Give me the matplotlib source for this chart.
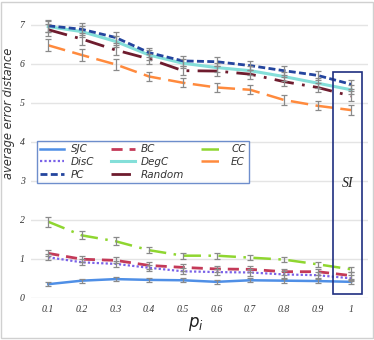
import matplotlib
matplotlib.use("Agg")
import matplotlib.pyplot as plt
from matplotlib.patches import Rectangle

# values
p = [0.1, 0.2, 0.3, 0.4, 0.5, 0.6, 0.7, 0.8, 0.9, 1.0]
xlabels = ["0.1", "0.2", "0.3", "0.4", "0.5", "0.6", "0.7", "0.8", "0.9", "1"]

sjc = [0.35, 0.44, 0.48, 0.46, 0.45, 0.41, 0.45, 0.44, 0.43, 0.41]
bc = [1.14, 0.99, 0.96, 0.83, 0.78, 0.74, 0.73, 0.67, 0.67, 0.57]
cc = [1.95, 1.60, 1.45, 1.22, 1.08, 1.08, 1.03, 0.98, 0.86, 0.73]
disc = [1.04, 0.91, 0.87, 0.77, 0.68, 0.66, 0.65, 0.60, 0.58, 0.50]
degc = [6.95, 6.82, 6.57, 6.22, 6.01, 5.90, 5.82, 5.67, 5.50, 5.33]
ec = [6.47, 6.22, 5.98, 5.67, 5.51, 5.39, 5.33, 5.07, 4.92, 4.81]
pc = [6.97, 6.88, 6.67, 6.28, 6.07, 6.05, 5.95, 5.82, 5.70, 5.47]
rnd = [6.87, 6.63, 6.35, 6.12, 5.82, 5.81, 5.73, 5.54, 5.39, 5.17]

err_low = [0.05, 0.05, 0.05, 0.05, 0.05, 0.05, 0.05, 0.05, 0.05, 0.05]
err_cc = [0.13, 0.1, 0.1, 0.08, 0.08, 0.08, 0.07, 0.07, 0.07, 0.07]
err_mid = [0.08, 0.08, 0.08, 0.08, 0.08, 0.08, 0.08, 0.08, 0.08, 0.08]
err_high = [0.15, 0.15, 0.14, 0.12, 0.12, 0.12, 0.12, 0.12, 0.12, 0.12]

fig = plt.figure(figsize=(3.74, 3.4), dpi=100)
ax = fig.add_axes([0.084, 0.124, 0.9, 0.861])

series = [
    ("SJC", sjc, err_low, "#4f8fe6", "-", 1.8),
    ("BC", bc, err_mid, "#c43a58", (0, (4, 2.5)), 2.0),
    ("CC", cc, err_cc, "#8fd630", (0, (7, 3, 1, 3)), 1.8),
    ("DisC", disc, err_mid, "#7a62e8", (0, (1, 1)), 1.6),
    ("DegC", degc, err_high, "#84dfd9", "-", 2.2),
    ("EC", ec, err_high, "#ff8a3d", (0, (7, 3)), 1.8),
    ("PC", pc, err_high, "#24459e", (0, (2.5, 1.2)), 2.0),
    ("Random", rnd, err_high, "#6e1c2e", (0, (7, 3, 1, 3)), 2.0),
]

lines = {}
for name, vals, err, col, ls, lw in series:
    ax.errorbar(p, vals, yerr=err, fmt="none", ecolor="#8a8a8a",
                elinewidth=0.9, capsize=2, capthick=0.9, zorder=4)
    lines[name], = ax.plot(p, vals, color=col, linestyle=ls, linewidth=lw, label=name, zorder=3)

ax.set_xlim(0.05, 1.05)
ax.set_ylim(0, 7.5)
ax.set_xticks(p)
ax.set_xticklabels(xlabels)
ax.set_yticks(range(8))
ax.grid(axis="y", color="#e4e4e4", linewidth=1)
ax.set_axisbelow(True)
for s in ax.spines.values():
    s.set_visible(False)
ax.tick_params(length=0, labelsize=7, labelcolor="#333333", pad=5)
for t in ax.get_xticklabels() + ax.get_yticklabels():
    t.set_fontfamily("Liberation Serif")
    t.set_fontstyle("italic")

ax.set_xlabel("$p_i$", fontsize=12, labelpad=0, color="#222222")
ax.xaxis.set_label_coords(0.49, -0.06)
ax.set_ylabel("average error distance", fontsize=8.3, style="italic", color="#333333")
ax.yaxis.set_label_coords(-0.05, 0.63)

# row-wise order like the reference
order = ["SJC", "DisC", "PC", "BC", "DegC", "Random", "CC", "EC"]
leg = ax.legend([lines[n] for n in order], order, ncol=3, loc="upper left",
                bbox_to_anchor=(0.017, 0.535), borderaxespad=0,
                prop={"style": "italic", "size": 7.5}, frameon=True, fancybox=False,
                handlelength=2.3, handletextpad=0.6, columnspacing=1.6,
                borderpad=0.3, labelspacing=0.25)
leg.get_frame().set_edgecolor("#4a72c0")
leg.get_frame().set_linewidth(1.0)
for t in leg.get_texts():
    t.set_color("#333333")

ax.add_patch(Rectangle((0.946, 0.09), 0.086, 5.69, fill=False,
                       edgecolor="#1f2f80", linewidth=1.2, zorder=5, clip_on=False))
ax.text(0.99, 2.93, "SI", fontsize=10, style="italic", family="Liberation Serif",
        ha="center", va="center", color="#222222")

fig.patches.append(Rectangle((0.004, 0.006), 0.992, 0.988, transform=fig.transFigure,
                             fill=False, edgecolor="#d0d0d0", linewidth=1))

fig.savefig("out.png", dpi=100)
